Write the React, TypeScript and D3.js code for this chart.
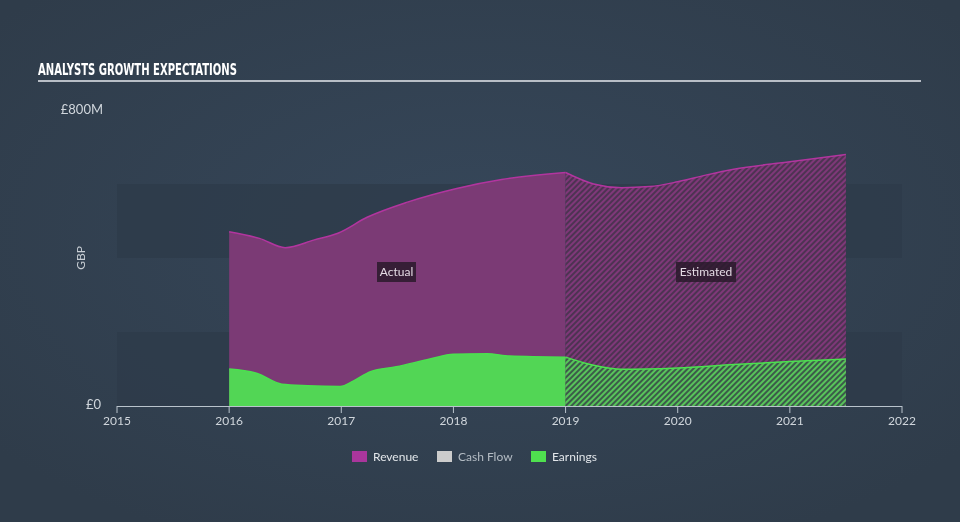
import React from "react";
import * as d3 from "d3";

const W = 960;
const H = 522;

const revenueActual: [number, number][] = [
  [2016.0, 471], [2016.27, 453], [2016.5, 428], [2016.76, 449], [2016.97, 467],
  [2017.23, 510], [2017.59, 551], [2018.03, 588], [2018.43, 612], [2019.0, 631],
];
const revenueEstimated: [number, number][] = [
  [2019.0, 631], [2019.25, 600], [2019.5, 590], [2019.75, 593], [2020.0, 606],
  [2020.25, 624], [2020.5, 640], [2021.0, 660], [2021.5, 680],
];
const earningsActual: [number, number][] = [
  [2016.0, 100], [2016.25, 88], [2016.47, 59], [2016.7, 55], [2016.99, 53],
  [2017.11, 68], [2017.26, 93], [2017.49, 106], [2017.79, 127], [2018.0, 140],
  [2018.3, 141], [2018.5, 135], [2019.0, 132],
];
const earningsEstimated: [number, number][] = [
  [2019.0, 132], [2019.25, 110], [2019.5, 99], [2020.0, 103], [2020.5, 112],
  [2021.0, 120], [2021.5, 127],
];
const xTicks = [2015, 2016, 2017, 2018, 2019, 2020, 2021, 2022];
const bands: [number, number][] = [[0, 200], [400, 600]];
const legendItems = ["Revenue", "Cash Flow", "Earnings"];

const x = d3.scaleLinear().domain([2015, 2022]).range([117, 902]);
const y = d3.scaleLinear().domain([0, 800]).range([406, 110]);

const area = d3
  .area<[number, number]>()
  .x((d) => x(d[0]))
  .y0(y(0))
  .y1((d) => y(d[1]))
  .curve(d3.curveMonotoneX);
const line = d3
  .line<[number, number]>()
  .x((d) => x(d[0]))
  .y((d) => y(d[1]))
  .curve(d3.curveMonotoneX);

const FONT = "Lato, 'Open Sans', sans-serif";

export default function App() {
  const legendX = [352, 437, 531];
  const legendColors = ["#a9369c", "#cccccc", "#4fe04f"];
  return (
    <svg
      width={W}
      height={H}
      style={{ position: "fixed", left: 0, top: 0 }}
      fontFamily={FONT}
    >
      <defs>
        <radialGradient id="bg" cx="50%" cy="45%" r="65%">
          <stop offset="0%" stopColor="#36475a" />
          <stop offset="100%" stopColor="#2f3c4a" />
        </radialGradient>
        <pattern id="hatchRev" patternUnits="userSpaceOnUse" width="4" height="4" patternTransform="rotate(45)">
          <rect width="4" height="4" fill="#4d3352" />
          <rect width="2" height="4" fill="#7f3879" />
        </pattern>
        <pattern id="hatchEarn" patternUnits="userSpaceOnUse" width="4" height="4" patternTransform="rotate(45)">
          <rect width="4" height="4" fill="#3c5a4a" />
          <rect width="2" height="4" fill="#58c45a" />
        </pattern>
      </defs>
      <rect width={W} height={H} fill="url(#bg)" />
      {bands.map((b, i) => (
        <rect
          key={i}
          x={x(2015)}
          width={x(2022) - x(2015)}
          y={y(b[1])}
          height={y(b[0]) - y(b[1])}
          fill="#2e3b4a"
          opacity={0.75}
        />
      ))}

      {/* Revenue */}
      <path d={area(revenueActual) || ""} fill="#7b3a75" />
      <path d={area(revenueEstimated) || ""} fill="url(#hatchRev)" />
      <path d={line(revenueActual) || ""} fill="none" stroke="#b2359f" strokeWidth={1.5} />
      <path d={line(revenueEstimated) || ""} fill="none" stroke="#b2359f" strokeWidth={1.5} />

      {/* Earnings */}
      <path d={area(earningsActual) || ""} fill="#52d655" />
      <path d={area(earningsEstimated) || ""} fill="url(#hatchEarn)" />
      <path d={line(earningsActual) || ""} fill="none" stroke="#4be04f" strokeWidth={1.5} />
      <path d={line(earningsEstimated) || ""} fill="none" stroke="#4be04f" strokeWidth={1.5} />

      {/* Labels */}
      <g>
        <rect x={377} y={262} width={39} height={20} fill="#2a1a2c" opacity={0.85} />
        <text x={396.5} y={276} textAnchor="middle" fill="#e4dbe4" fontSize={12}>Actual</text>
        <rect x={676} y={262} width={60} height={20} fill="#2a1a2c" opacity={0.85} />
        <text x={706} y={276} textAnchor="middle" fill="#e4dbe4" fontSize={12}>Estimated</text>
      </g>

      {/* X axis */}
      <line x1={x(2015)} x2={x(2022)} y1={406.5} y2={406.5} stroke="#b9c3cc" strokeWidth={1} />
      {xTicks.map((t) => (
        <g key={t}>
          <line x1={x(t)} x2={x(t)} y1={406} y2={413} stroke="#b9c3cc" strokeWidth={1} />
          <text x={x(t)} y={425} textAnchor="middle" fill="#d0d6dc" fontSize={12}>{t}</text>
        </g>
      ))}

      {/* Y labels */}
      <text x={103} y={114} textAnchor="end" fill="#d0d6dc" fontSize={13}>£800M</text>
      <text x={101} y={409} textAnchor="end" fill="#d0d6dc" fontSize={13}>£0</text>
      <text transform="translate(85,258) rotate(-90)" textAnchor="middle" fill="#c8ced4" fontSize={12}>GBP</text>

      {/* Title */}
      <text
        x={38}
        y={75}
        fill="#ffffff"
        fontSize={16}
        fontWeight="bold"
        fontFamily="'Liberation Sans Narrow', 'DejaVu Sans Condensed', sans-serif"
        textLength={199}
        lengthAdjust="spacingAndGlyphs"
      >
        ANALYSTS GROWTH EXPECTATIONS
      </text>
      <line x1={38} x2={921} y1={81} y2={81} stroke="#b8bec6" strokeWidth={2} />

      {/* Legend */}
      {legendItems.map((name, i) => (
        <g key={name}>
          <rect x={legendX[i]} y={451} width={15} height={11} fill={legendColors[i]} />
          <text
            x={legendX[i] + 21}
            y={461}
            fill={i === 1 ? "#b4bcc4" : "#e2e6ea"}
            fontSize={12}
          >
            {name}
          </text>
        </g>
      ))}
    </svg>
  );
}
